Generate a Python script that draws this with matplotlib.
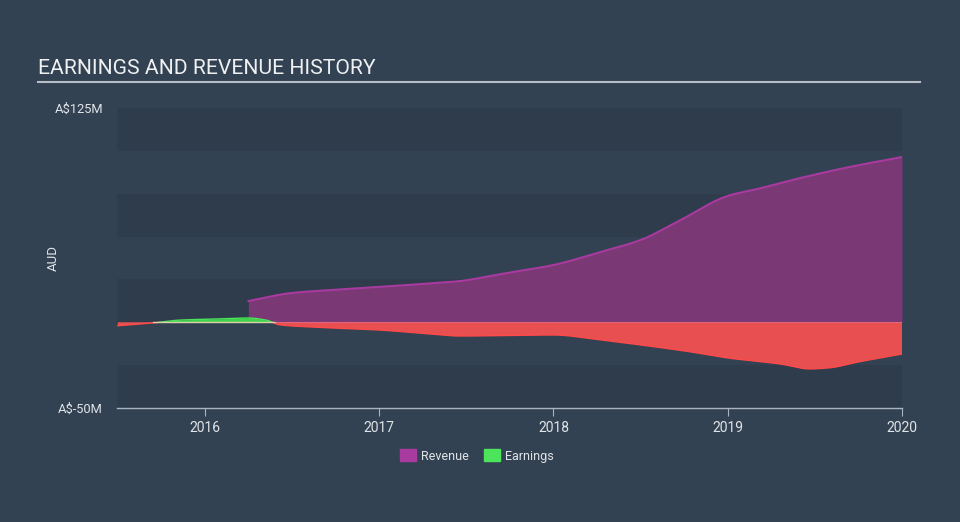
import matplotlib.pyplot as plt
import numpy as np
from matplotlib.patches import Patch

plt.rcParams['font.family'] = ['Roboto', 'DejaVu Sans']

# values in A$ millions, x in decimal years
rev_x = [2016.25, 2016.49, 2016.75, 2017.0, 2017.24, 2017.46, 2017.69, 2018.0,
         2018.27, 2018.5, 2018.73, 2019.0, 2019.18, 2019.41, 2019.7, 2020.0]
rev_y = [12.4, 17.0, 19.0, 20.6, 22.3, 24.0, 28.0, 33.4,
         41.0, 48.0, 59.7, 73.7, 78.0, 84.0, 90.6, 96.4]

earn_x = [2015.5, 2015.69, 2015.86, 2016.09, 2016.25, 2016.35, 2016.43, 2016.6,
          2017.0, 2017.29, 2017.46, 2018.0, 2018.27, 2018.5, 2018.79, 2019.0,
          2019.3, 2019.47, 2019.58, 2019.75, 2020.0]
earn_y = [-2.0, -0.5, 1.3, 2.0, 2.5, 1.3, -1.5, -2.7,
          -4.5, -6.8, -8.0, -7.4, -10.3, -13.2, -17.3, -20.8,
          -24.3, -27.2, -26.6, -23.1, -18.5]

years = [2016, 2017, 2018, 2019, 2020]
y_ticks = [-50, 125]
y_labels = ['A$-50M', 'A$125M']


def smooth(x, y, n=600):
    # monotone cubic (Fritsch-Carlson) for drawing only
    x = np.asarray(x, float)
    y = np.asarray(y, float)
    h = np.diff(x)
    d = np.diff(y) / h
    m = np.zeros_like(y)
    m[0], m[-1] = d[0], d[-1]
    for i in range(1, len(y) - 1):
        if d[i - 1] * d[i] > 0:
            w1 = 2 * h[i] + h[i - 1]
            w2 = h[i] + 2 * h[i - 1]
            m[i] = (w1 + w2) / (w1 / d[i - 1] + w2 / d[i])
    xs = np.linspace(x[0], x[-1], n)
    k = np.clip(np.searchsorted(x, xs) - 1, 0, len(x) - 2)
    t = (xs - x[k]) / h[k]
    h00 = 2 * t**3 - 3 * t**2 + 1
    h10 = t**3 - 2 * t**2 + t
    h01 = -2 * t**3 + 3 * t**2
    h11 = t**3 - t**2
    ys = h00 * y[k] + h10 * h[k] * m[k] + h01 * y[k + 1] + h11 * h[k] * m[k + 1]
    return xs, ys


bg = '#334252'
fig = plt.figure(figsize=(9.6, 5.22), dpi=100, facecolor=bg)
ax = fig.add_axes([117 / 960, 1 - 408 / 522, 785 / 960, 300 / 522])
ax.set_facecolor(bg)

# horizontal bands
edges = np.linspace(-50, 125, 8)
for i in range(7):
    c = '#2e3c4b' if i % 2 == 0 else '#334252'
    ax.axhspan(edges[i], edges[i + 1], color=c, lw=0, zorder=0)

rx, ry = smooth(rev_x, rev_y)
xs, ys = smooth(earn_x, earn_y, 1200)

# revenue
ax.fill_between(rx, 0, ry, color='#7a3875', lw=0, zorder=2)
ax.plot(rx, ry, color='#a83aa0', lw=1.5, zorder=3)
ax.plot([rx[0], rx[0]], [0, ry[0]], color='#7a3875', lw=1, zorder=2)

# earnings
ax.fill_between(xs, 0, ys, where=ys < 0, color='#e84f50', lw=0, zorder=4, interpolate=True)
ax.fill_between(xs, 0, ys, where=ys >= 0, color='#3fd24a', lw=0, zorder=4, interpolate=True)
ax.plot(xs, np.where(ys < 0, ys, np.nan), color='#ff4a4a', lw=1, zorder=5)
ax.plot(xs, np.where(ys >= 0, ys, np.nan), color='#4be45a', lw=1, zorder=5)
ax.plot([2015.7, 2016.4], [0, 0], color='#d8d4a8', lw=1, zorder=6)
ax.plot([2016.4, 2020], [0, 0], color='#f07090', lw=0.8, zorder=6, alpha=0.7)

ax.set_xlim(2015.495, 2020.0)
ax.set_ylim(-50, 125)

for s in ['top', 'right', 'left']:
    ax.spines[s].set_visible(False)
ax.spines['bottom'].set_color('#aab4c0')
ax.spines['bottom'].set_linewidth(1)
ax.spines['bottom'].set_zorder(7)

ax.set_xticks(years)
ax.set_xticklabels([str(y) for y in years])
ax.tick_params(axis='x', colors='#aab4c0', labelcolor='#e0e4e8', length=6,
               labelsize=10, pad=3)
ax.set_yticks(y_ticks)
ax.set_yticklabels(y_labels)
ax.tick_params(axis='y', length=0, labelcolor='#e0e4e8', labelsize=9.3, pad=10)
ax.set_ylabel('AUD', color='#e0e4e8', fontsize=9.5)
ax.yaxis.set_label_coords(-57 / 785, 0.5)

fig.text(38 / 960, 1 - 68 / 522, 'EARNINGS AND REVENUE HISTORY', color='#eef0f2',
         fontsize=15.2, va='center', ha='left')
fig.add_artist(plt.Line2D([38 / 960, 920 / 960], [1 - 81.5 / 522, 1 - 81.5 / 522],
                          color='#b8bec6', lw=1.5))

handles = [Patch(color='#a83aa0', label='Revenue'), Patch(color='#4be45a', label='Earnings')]
fig.legend(handles=handles, loc='center', bbox_to_anchor=(477 / 960, 1 - 456 / 522),
           ncol=2, frameon=False, fontsize=9, labelcolor='#e0e4e8',
           handlelength=1.3, handleheight=1.1, handletextpad=0.4, columnspacing=1.2)

fig.savefig('out.png', dpi=100, facecolor=bg)
